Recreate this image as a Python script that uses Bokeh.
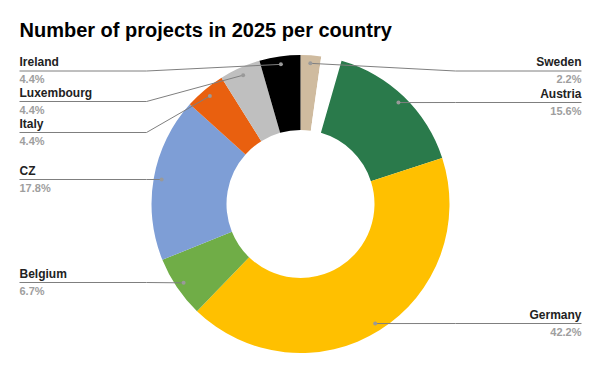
import math
from bokeh.plotting import figure
from bokeh.models import Range1d, ColumnDataSource
from bokeh.core.properties import value
from bokeh.embed import file_html
from bokeh.resources import INLINE

# ---- data ----
countries = ["Sweden", "", "Austria", "Germany", "Belgium", "CZ", "Italy", "Luxembourg", "Ireland"]
projects = [1, 1, 7, 19, 3, 8, 2, 2, 2]
colors = ["#CFBB9F", "#FFFFFF", "#2A7A4B", "#FFC000", "#70AD47", "#7E9ED6", "#E9600F", "#BFBFBF", "#000000"]
title_text = "Number of projects in 2025 per country"

# ---- layout (reference pixel space, y measured downward) ----
W, H = 584, 355
OFF = 0
CX, CY = 300.0, 203.5
R_OUT, R_IN, R_DOT = 149.0, 74.0, 141.0
label_line_y = {"Sweden": 70.5, "Austria": 102.0, "Germany": 323.0,
                "Belgium": 282.0, "CZ": 179.0, "Italy": 132.0,
                "Luxembourg": 101.0, "Ireland": 70.5}
LEFT_X, RIGHT_X = 19.0, 581.0
ELBOW_L, ELBOW_R = 146.0, 455.0
NAME_DY, PCT_DY = -9.0, 8.0
TITLE_Y = 29.5


def fy(Y):
    return 371.0 - Y


p = figure(width=W, height=H, x_range=Range1d(OFF, OFF + W), y_range=Range1d(371 - OFF - H, 371 - OFF),
           output_backend="svg", toolbar_location=None, min_border=0,
           x_axis_location=None, y_axis_location=None)
p.grid.visible = False
p.outline_line_color = None
p.background_fill_color = "white"
p.border_fill_color = "white"

total = sum(projects)
starts, ends = [], []
cum = 0.0
for v in projects:
    a0 = cum / total
    cum += v
    a1 = cum / total
    starts.append(math.pi / 2 - a0 * 2 * math.pi)
    ends.append(math.pi / 2 - a1 * 2 * math.pi)

src = ColumnDataSource(dict(x=[CX] * len(projects), y=[fy(CY)] * len(projects),
                            start=starts, end=ends, color=colors))
p.annular_wedge(x="x", y="y", inner_radius=R_IN, outer_radius=R_OUT,
                start_angle="start", end_angle="end", direction="clock",
                fill_color="color", line_color=None, source=src)

# labels
lx, ly, ltxt, lalign = [], [], [], []
px_, py_, ptxt, palign = [], [], [], []
xs, ys = [], []
dx, dy = [], []
cum = 0.0
for name, v in zip(countries, projects):
    mid = (cum + v / 2) / total
    cum += v
    if not name:
        continue
    ang = mid * 2 * math.pi
    DX = CX + R_DOT * math.sin(ang)
    DY = CY - R_DOT * math.cos(ang)
    dx.append(DX)
    dy.append(fy(DY))
    LY = label_line_y[name]
    right = DX > CX
    if right:
        xs.append([DX, ELBOW_R, RIGHT_X])
        tx, al = RIGHT_X, "right"
    else:
        xs.append([DX, ELBOW_L, LEFT_X])
        tx, al = LEFT_X, "left"
    ys.append([fy(DY), fy(LY), fy(LY)])
    lx.append(tx); ly.append(fy(LY + NAME_DY)); ltxt.append(name); lalign.append(al)
    px_.append(tx); py_.append(fy(LY + PCT_DY)); ptxt.append(f"{100 * v / total:.1f}%"); palign.append(al)

p.multi_line(xs, ys, line_color="#7F7F7F", line_width=1)
p.scatter(dx, dy, size=4, fill_color="#999999", line_color=None)

p.text(x=lx, y=ly, text=ltxt, text_align=lalign, text_baseline="middle",
       text_font=value("Liberation Sans"), text_font_style="bold",
       text_font_size="12px", text_color="#222222")
p.text(x=px_, y=py_, text=ptxt, text_align=palign, text_baseline="middle",
       text_font=value("Liberation Sans"), text_font_style="bold",
       text_font_size="11px", text_color="#9E9E9E")

p.text(x=[19], y=[fy(TITLE_Y)], text=[title_text], text_align="left", text_baseline="middle",
       text_font=value("Liberation Sans"), text_font_style="bold",
       text_font_size="20px", text_color="#000000")

open("out.html", "w").write(file_html(p, INLINE))
